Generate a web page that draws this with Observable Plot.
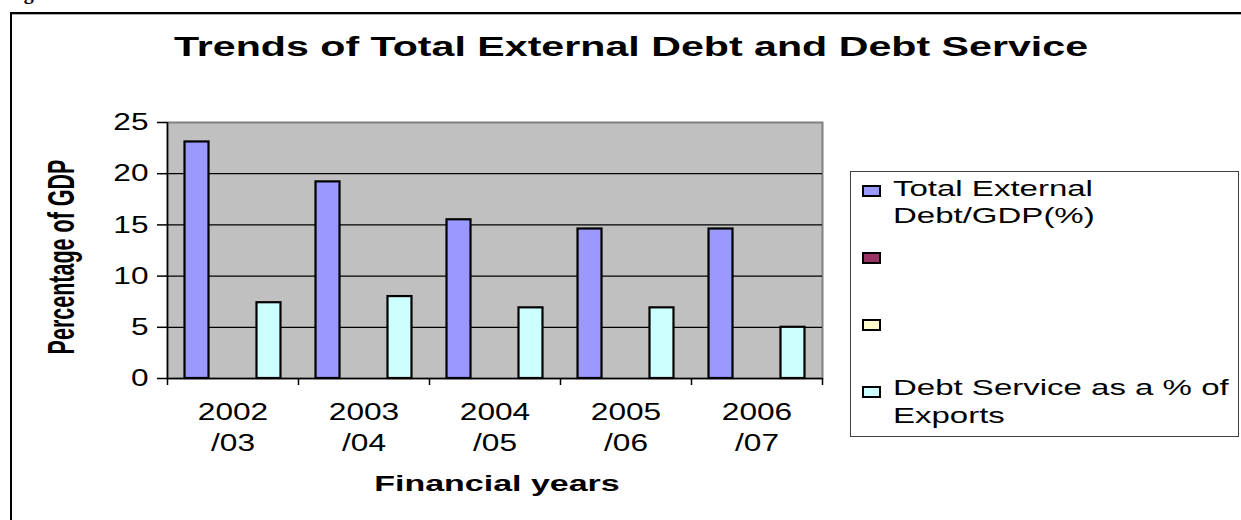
<!DOCTYPE html>
<html>
<head>
<meta charset="utf-8">
<script src="https://cdn.jsdelivr.net/npm/d3@7"></script>
<script src="https://cdn.jsdelivr.net/npm/@observablehq/plot@0.6"></script>
<style>
  body { margin: 0; background: #fff; font-family: "Liberation Sans", Arial, sans-serif; }
  #wrap { position: relative; width: 1241px; height: 520px; overflow: hidden; background: #fff; }
  #wrap svg { position: absolute; left: 0; top: 0; }
  .outer { position: absolute; left: 10px; top: 12px; width: 1400px; height: 700px; border: 2.5px solid #000; box-sizing: border-box; box-shadow: inset 0 1px 0 #aaa; }
  .lbl { position: absolute; white-space: nowrap; line-height: 1; color: #000; }
  .legend { position: absolute; left: 850px; top: 171px; width: 389px; height: 266px; border: 1.5px solid #404040; box-sizing: border-box; background: #fff; }
  .sw { position: absolute; width: 19px; height: 12px; border: 2px solid #000; box-sizing: border-box; }
</style>
</head>
<body>
<div id="wrap"></div>
<script>
// ---- data ----
const years = ["2002/03", "2003/04", "2004/05", "2005/06", "2006/07"];
const totalDebtGDP = [23.1, 19.2, 15.5, 14.6, 14.6];
const debtServiceExports = [7.4, 8.0, 6.9, 6.9, 5.0];
const seriesNames = ["Total External Debt/GDP(%)", "", "", "Debt Service as a % of Exports"];
const seriesColors = ["#9999FF", "#993366", "#FFFFCC", "#CCFFFF"];
const yTicks = [0, 5, 10, 15, 20, 25];
const titleText = "Trends of Total External Debt and Debt Service";
const xTitle = "Financial years";
const yTitle = "Percentage of GDP";

// ---- build table (Excel-style clustered columns: 4 series slots, gap width 146%) ----
const nSlots = seriesNames.length;
const gapWidth = 1.46;
const seriesValues = [totalDebtGDP, null, null, debtServiceExports];
const bars = [];
seriesValues.forEach((vals, s) => {
  if (!vals) return;
  vals.forEach((v, i) => bars.push({
    i, s, value: v,
    x1: i + (gapWidth / 2 + s) / (nSlots + gapWidth),
    x2: i + (gapWidth / 2 + s + 1) / (nSlots + gapWidth)
  }));
});
const tickLabels = years.map(y => y.replace("/", "\n/"));

const chart = Plot.plot({
  width: 1241,
  height: 520,
  marginLeft: 167,
  marginRight: 419,
  marginTop: 122,
  marginBottom: 142,
  x: {domain: [0, years.length], axis: null},
  y: {domain: [0, 25], axis: null},
  style: {fontFamily: '"Liberation Sans", Arial, sans-serif', fontSize: "24px", color: "#000", background: "transparent"},
  marks: [
    Plot.frame({fill: "#C0C0C0", stroke: "#808080", strokeWidth: 2}),
    Plot.gridY(yTicks.slice(1, -1), {stroke: "#000", strokeOpacity: 1, strokeWidth: 1.2}),
    Plot.rect(bars, {x1: "x1", x2: "x2", y1: 0, y2: "value", fill: d => seriesColors[d.s], stroke: "#000", strokeWidth: 2.2}),
    Plot.ruleY([0], {stroke: "#000", strokeWidth: 1.5}),
    Plot.ruleX([0], {stroke: "#000", strokeWidth: 1.5}),
    Plot.axisY({ticks: yTicks, tickSize: 10, tickPadding: 9, strokeWidth: 1.5, fontSize: 24, label: null}),
    Plot.axisX({ticks: d3.range(years.length + 1), tickSize: 7, strokeWidth: 1.5, tickFormat: () => "", label: null}),
    Plot.axisX({ticks: years.map((_, i) => i + 0.5), tickSize: 0, tickPadding: 19, fontSize: 24, lineHeight: 1.3,
                tickFormat: d => tickLabels[Math.floor(d)], label: null})
  ]
});

// stretch the SVG texts horizontally (reference is horizontally stretched)
chart.querySelectorAll("text").forEach(el => {
  const t = el.getAttribute("transform") || "";
  const x = +el.getAttribute("x") || 0, y = +el.getAttribute("y") || 0;
  el.setAttribute("transform", `${t} translate(${x},${y}) scale(1.32,1) translate(${-x},${-y})`);
});

const wrap = document.getElementById("wrap");
const outer = document.createElement("div");
outer.className = "outer";
wrap.appendChild(outer);
wrap.appendChild(chart);

function label(text, {x, top, size, weight = "normal", stretch = 1.5, anchor = "start", rotate = 0, family}) {
  const d = document.createElement("div");
  d.className = "lbl";
  d.textContent = text;
  d.style.left = x + "px";
  d.style.top = top + "px";
  d.style.fontSize = size + "px";
  d.style.fontWeight = weight;
  if (family) d.style.fontFamily = family;
  if (rotate) {
    d.style.transformOrigin = "center center";
    d.style.transform = `translate(-50%,-50%) scaleX(${stretch}) rotate(${rotate}deg)`;
  } else if (anchor === "middle") {
    d.style.transformOrigin = "center top";
    d.style.transform = `translateX(-50%) scaleX(${stretch})`;
  } else {
    d.style.transformOrigin = "left top";
    d.style.transform = `scaleX(${stretch})`;
  }
  wrap.appendChild(d);
  return d;
}

// cut-off caption above the frame (only the descender of its "g" shows)
label("Figure", {x: 6, top: -18, size: 20, weight: "bold", stretch: 1.0, family: '"Liberation Serif", serif'});

label(titleText, {x: 631, top: 33, size: 28, weight: "bold", stretch: 1.47, anchor: "middle"});
label(xTitle, {x: 497, top: 474, size: 21.5, weight: "bold", stretch: 1.58, anchor: "middle"});
label(yTitle, {x: 63, top: 257, size: 21.5, weight: "bold", stretch: 1.7, rotate: -90});

// legend
const lg = document.createElement("div");
lg.className = "legend";
wrap.appendChild(lg);
const swY = [185, 252, 319, 386];
seriesNames.forEach((name, k) => {
  const sw = document.createElement("div");
  sw.className = "sw";
  sw.style.left = "862px";
  sw.style.top = swY[k] + "px";
  sw.style.background = seriesColors[k];
  wrap.appendChild(sw);
});
const legendLines = [
  ["Total External", 178], ["Debt/GDP(%)", 205],
  ["Debt Service as a % of", 377], ["Exports", 405]
];
legendLines.forEach(([t, top]) => label(t, {x: 893, top, size: 22, stretch: 1.5}));
</script>
</body>
</html>
